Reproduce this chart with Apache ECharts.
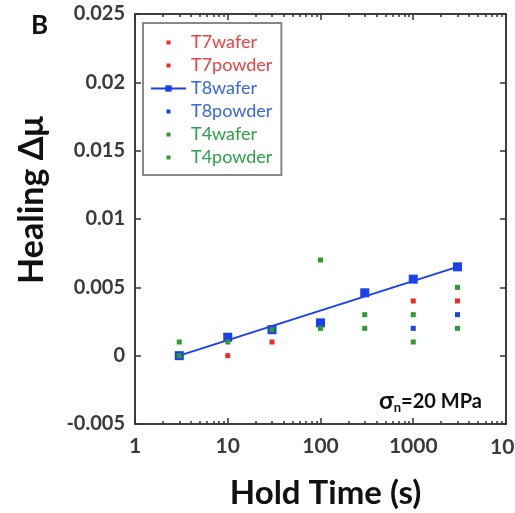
<!DOCTYPE html>
<html>
<head>
<meta charset="utf-8">
<script src="https://cdn.jsdelivr.net/npm/echarts@6/dist/echarts.min.js"></script>
<style>html,body{margin:0;padding:0;background:#fff}#c{width:515px;height:513px}</style>
</head>
<body>
<div id="c"></div>
<script>
// ---- data ----
var xTickValues = [1, 10, 100, 1000, 10000];
var xTickLabels = ['1', '10', '100', '1000', '10{sup|4}'];
var yTicks = [-0.005, 0, 0.005, 0.01, 0.015, 0.02, 0.025];
var seriesNames = ['T7wafer', 'T7powder', 'T8wafer', 'T8powder', 'T4wafer', 'T4powder'];

var t8waferX = [3, 10, 30, 100, 300, 1000, 3000];
var t8waferY = [0, 0.00135, 0.0019, 0.0024, 0.0046, 0.0056, 0.0065];
var t8fitX = [3, 3000];
var t8fitY = [0, 0.0065];
var t8powderX = [1000, 3000];
var t8powderY = [0.002, 0.003];
var t7waferX = [10, 30];
var t7waferY = [0, 0.001];
var t7powderX = [1000, 3000];
var t7powderY = [0.004, 0.004];
var t4waferX = [3, 10, 30, 100, 300, 1000, 3000];
var t4waferY = [0, 0.001, 0.0019, 0.002, 0.002, 0.001, 0.002];
var t4powderX = [3, 100, 300, 1000, 3000];
var t4powderY = [0.001, 0.007, 0.003, 0.003, 0.005];

function pairs(xs, ys) { return xs.map(function (x, i) { return [x, ys[i]]; }); }

var minorTicks = [];
for (var d = 1; d < 10000; d *= 10) { for (var k = 2; k <= 9; k++) minorTicks.push(d * k); }

var RED = '#f02a2a', BLUE = '#1a40f0', GREEN = '#2e9b2e';
var RED_T = '#ee4040', BLUE_T = '#3565ea', GREEN_T = '#2aa14a';
var FONT = 'Lato';
var AX = '#404040';
var dotIcon = 'path://M0,0M35,8M15.5,2h4v4h-4z';

function xLabel(v) {
  var r = Math.round(v);
  var i = xTickValues.indexOf(r);
  return i >= 0 ? xTickLabels[i] : String(r);
}

function xAx(pos, minor, labels, name) {
  return {
    type: 'log', logBase: 10, min: 1, max: 10000, position: pos, gridIndex: 0,
    axisLine: { show: !minor, onZero: false, lineStyle: { color: AX, width: 2 } },
    axisTick: { show: true, inside: true, length: minor ? 3 : 6, customValues: minor ? minorTicks : xTickValues, lineStyle: { color: '#333', width: 1.5 } },
    axisLabel: labels ? { show: true, customValues: xTickValues, margin: 12, color: '#3a3a3a', fontFamily: FONT, fontWeight: 'bold', fontSize: 21, hideOverlap: false, formatter: xLabel,
      rich: { sup: { fontFamily: FONT, fontWeight: 'bold', fontSize: 13, color: '#3a3a3a', padding: [0, 0, 10, 0] } } } : { show: false },
    splitLine: { show: false }, minorTick: { show: false },
    name: name || '', nameLocation: 'middle', nameGap: 53,
    nameTextStyle: { fontFamily: FONT, fontWeight: 'bold', fontSize: 33, color: '#111', padding: [0, 0, 0, 10] }
  };
}
function yAx(pos, labels, name) {
  return {
    type: 'value', min: -0.005, max: 0.025, interval: 0.005, position: pos,
    axisLine: { show: true, onZero: false, lineStyle: { color: AX, width: 2 } },
    axisTick: { show: true, inside: true, length: 6, lineStyle: { color: '#333', width: 1.5 } },
    axisLabel: labels ? { show: true, margin: 10, color: '#3a3a3a', fontFamily: FONT, fontWeight: 'bold', fontSize: 20 } : { show: false },
    splitLine: { show: false },
    name: name || '', nameLocation: 'middle', nameGap: 86,
    nameTextStyle: { fontFamily: FONT, fontWeight: 'bold', fontSize: 34, color: '#111', padding: [0, 0, 0, 38] }
  };
}

var chart = echarts.init(document.getElementById('c'), null, { renderer: 'canvas' });
chart.setOption({
  animation: false,
  backgroundColor: '#fff',
  title: [
    { text: 'B', left: 26, top: 8, textStyle: { fontFamily: FONT, fontWeight: 'bold', fontSize: 26, color: '#111' } },
    { text: '{s|σ}{n|n}{t|=20 MPa}', left: 374, top: 384,
      textStyle: { rich: {
        s: { fontFamily: FONT, fontWeight: 'bold', fontSize: 24, color: '#111' },
        n: { fontFamily: FONT, fontWeight: 'bold', fontSize: 13, color: '#111', verticalAlign: 'bottom', padding: [12, 0, 0, 0] },
        t: { fontFamily: FONT, fontWeight: 'bold', fontSize: 20, color: '#111' }
      } } }
  ],
  grid: { left: 135, right: 9, top: 14, bottom: 89, containLabel: false, outerBoundsMode: 'none' },
  legend: {
    left: 143, top: 23, orient: 'vertical', selectedMode: false,
    itemWidth: 35, itemHeight: 8, itemGap: 4,
    padding: [10, 9, 8, 7],
    borderColor: '#888', borderWidth: 2, backgroundColor: '#fff',
    textStyle: { fontFamily: FONT, fontSize: 18, lineHeight: 19 },
    data: [
      { name: 'T7wafer', icon: dotIcon, textStyle: { color: RED_T } },
      { name: 'T7powder', icon: dotIcon, textStyle: { color: RED_T } },
      { name: 'T8wafer', textStyle: { color: BLUE_T } },
      { name: 'T8powder', icon: dotIcon, textStyle: { color: BLUE_T } },
      { name: 'T4wafer', icon: dotIcon, textStyle: { color: GREEN_T } },
      { name: 'T4powder', icon: dotIcon, textStyle: { color: GREEN_T } }
    ]
  },
  xAxis: [xAx('bottom', false, true, 'Hold Time (s)'), xAx('bottom', true, false), xAx('top', false, false), xAx('top', true, false)],
  yAxis: [yAx('left', true, 'Healing Δμ'), yAx('right', false)],
  series: [
    { name: 'T8wafer', type: 'line', data: pairs(t8fitX, t8fitY), symbol: 'rect', symbolSize: 8, showSymbol: false,
      lineStyle: { color: BLUE, width: 2 }, itemStyle: { color: BLUE }, z: 3 },
    { name: 'T8wafer', type: 'scatter', data: pairs(t8waferX, t8waferY), symbol: 'rect', symbolSize: 9, itemStyle: { color: BLUE, opacity: 1 }, z: 3 },
    { name: 'T7wafer', type: 'scatter', data: pairs(t7waferX, t7waferY), symbol: 'rect', symbolSize: 5, itemStyle: { color: RED, opacity: 1 }, z: 4 },
    { name: 'T7powder', type: 'scatter', data: pairs(t7powderX, t7powderY), symbol: 'rect', symbolSize: 5, itemStyle: { color: RED, opacity: 1 }, z: 4 },
    { name: 'T8powder', type: 'scatter', data: pairs(t8powderX, t8powderY), symbol: 'rect', symbolSize: 5, itemStyle: { color: BLUE, opacity: 1 }, z: 4 },
    { name: 'T4wafer', type: 'scatter', data: pairs(t4waferX, t4waferY), symbol: 'rect', symbolSize: 5, itemStyle: { color: GREEN, opacity: 1 }, z: 4 },
    { name: 'T4powder', type: 'scatter', data: pairs(t4powderX, t4powderY), symbol: 'rect', symbolSize: 5, itemStyle: { color: GREEN, opacity: 1 }, z: 4 }
  ]
});
</script>
</body>
</html>
